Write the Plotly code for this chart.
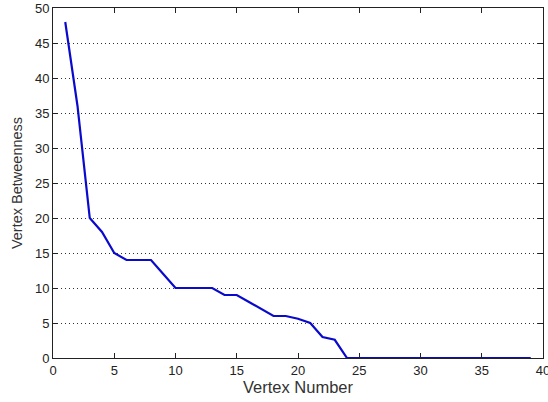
import plotly.graph_objects as go

vertex = list(range(1, 40))
betweenness = [48, 36, 20, 18, 15, 14, 14, 14, 12, 10,
               10, 10, 10, 9, 9, 8, 7, 6, 6, 5.6,
               5, 3, 2.6, 0, 0, 0, 0, 0, 0, 0,
               0, 0, 0, 0, 0, 0, 0, 0, 0]

fig = go.Figure()
fig.add_trace(go.Scatter(x=vertex, y=betweenness, mode="lines",
                         line=dict(color="#0a0acc", width=2.2)))

font = dict(family="Liberation Sans, Arial, sans-serif", size=13, color="#222222")
fig.update_layout(
    width=548, height=402,
    margin=dict(l=53, r=5, t=8, b=44),
    paper_bgcolor="white", plot_bgcolor="white",
    showlegend=False,
    font=font,
    xaxis=dict(range=[0, 40], tickmode="linear", tick0=0, dtick=5,
               ticks="inside", ticklen=5, tickcolor="#222", showline=True,
               linecolor="#222", linewidth=1, mirror="ticks", showgrid=False,
               zeroline=False, automargin=False, ticklabeloverflow="allow",
               title=dict(text="Vertex Number", font=dict(size=16.5, color="#333"), standoff=4)),
    yaxis=dict(range=[0, 50], tickmode="linear", tick0=0, dtick=5,
               ticks="inside", ticklen=5, tickcolor="#222", showline=True,
               linecolor="#222", linewidth=1, mirror="ticks", showgrid=True,
               gridcolor="#333", griddash="1px,3px", gridwidth=1, zeroline=False,
               automargin=False, ticklabeloverflow="allow",
               title=dict(text="Vertex Betweenness", font=dict(size=14.5, color="#333"), standoff=8)),
)
fig.write_html("out.html", config={"displayModeBar": False},
               post_script="document.body.style.margin='0';document.body.style.overflow='hidden';")
